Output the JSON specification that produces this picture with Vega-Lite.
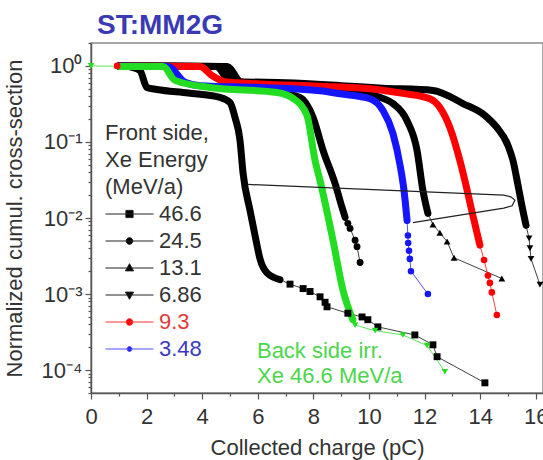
{
  "$schema": "https://vega.github.io/schema/vega-lite/v6.json",
  "width": 452,
  "height": 350,
  "autosize": {"type": "none"},
  "padding": {"left": 91, "top": 43, "right": 0, "bottom": 67},
  "config": {
    "font": "Liberation Sans",
    "view": {"stroke": "#8a8a8a", "strokeWidth": 1.5},
    "axis": {"grid": false, "domainColor": "#555", "domainWidth": 1.5, "tickColor": "#555", "tickWidth": 1.2, "labelColor": "#333", "titleColor": "#333", "labelFontSize": 22, "titleFontSize": 22, "titleFontWeight": "normal", "labelFont": "Liberation Sans", "titleFont": "Liberation Sans"}
  },
  "title": {"text": "ST:MM2G", "anchor": "start", "frame": "group", "offset": 2, "dx": 6, "fontSize": 28, "fontWeight": "bold", "color": "#3a3ab5", "font": "Liberation Sans"},
  "resolve": {"scale": {"shape": "independent", "size": "independent"}, "legend": {"shape": "independent", "fill": "independent", "stroke": "independent", "color": "independent", "size": "independent"}},
  "datasets": {
    "curves": [
      {"s": "46.6", "x": 1.2, "y": 1.0, "p": "d"},
      {"s": "46.6", "x": 1.76, "y": 0.87, "p": "d"},
      {"s": "46.6", "x": 2.01, "y": 0.52, "p": "d"},
      {"s": "46.6", "x": 2.37, "y": 0.49, "p": "d"},
      {"s": "46.6", "x": 3.5, "y": 0.44, "p": "d"},
      {"s": "46.6", "x": 4.64, "y": 0.385, "p": "d"},
      {"s": "46.6", "x": 5.0, "y": 0.33, "p": "d"},
      {"s": "46.6", "x": 5.18, "y": 0.21, "p": "d"},
      {"s": "46.6", "x": 5.36, "y": 0.105, "p": "d"},
      {"s": "46.6", "x": 5.47, "y": 0.039, "p": "d"},
      {"s": "46.6", "x": 5.72, "y": 0.0126, "p": "d"},
      {"s": "46.6", "x": 5.94, "y": 0.005, "p": "d"},
      {"s": "46.6", "x": 6.08, "y": 0.0029, "p": "d"},
      {"s": "46.6", "x": 6.33, "y": 0.0019, "p": "d"},
      {"s": "46.6", "x": 6.8, "y": 0.00155, "p": "d"},
      {"s": "46.6", "x": 7.16, "y": 0.00135, "p": "t"},
      {"s": "46.6", "x": 7.63, "y": 0.00118, "p": "t"},
      {"s": "46.6", "x": 7.88, "y": 0.00108, "p": "t"},
      {"s": "46.6", "x": 8.24, "y": 0.00092, "p": "t"},
      {"s": "46.6", "x": 8.42, "y": 0.00078, "p": "t"},
      {"s": "46.6", "x": 8.49, "y": 0.00068, "p": "t"},
      {"s": "46.6", "x": 9.24, "y": 0.00056, "p": "t"},
      {"s": "46.6", "x": 9.75, "y": 0.0005, "p": "t"},
      {"s": "46.6", "x": 9.96, "y": 0.00046, "p": "t"},
      {"s": "46.6", "x": 10.32, "y": 0.00037, "p": "t"},
      {"s": "46.6", "x": 11.65, "y": 0.00029, "p": "t"},
      {"s": "46.6", "x": 12.3, "y": 0.000215, "p": "t"},
      {"s": "46.6", "x": 12.45, "y": 0.00015, "p": "t"},
      {"s": "46.6", "x": 14.17, "y": 0.000068, "p": "t"},
      {"s": "24.5", "x": 1.0, "y": 1.0, "p": "d"},
      {"s": "24.5", "x": 4.5, "y": 0.98, "p": "d"},
      {"s": "24.5", "x": 5.0, "y": 0.6, "p": "d"},
      {"s": "24.5", "x": 5.5, "y": 0.52, "p": "d"},
      {"s": "24.5", "x": 6.5, "y": 0.47, "p": "d"},
      {"s": "24.5", "x": 7.52, "y": 0.385, "p": "d"},
      {"s": "24.5", "x": 7.99, "y": 0.21, "p": "d"},
      {"s": "24.5", "x": 8.35, "y": 0.077, "p": "d"},
      {"s": "24.5", "x": 8.78, "y": 0.0284, "p": "d"},
      {"s": "24.5", "x": 9.03, "y": 0.0138, "p": "d"},
      {"s": "24.5", "x": 9.14, "y": 0.0102, "p": "d"},
      {"s": "24.5", "x": 9.24, "y": 0.0085, "p": "t"},
      {"s": "24.5", "x": 9.32, "y": 0.0073, "p": "t"},
      {"s": "24.5", "x": 9.5, "y": 0.0051, "p": "t"},
      {"s": "24.5", "x": 9.57, "y": 0.0042, "p": "t"},
      {"s": "24.5", "x": 9.68, "y": 0.0026, "p": "t"},
      {"s": "13.1", "x": 1.0, "y": 1.0, "p": "d"},
      {"s": "13.1", "x": 4.7, "y": 0.98, "p": "d"},
      {"s": "13.1", "x": 5.2, "y": 0.6, "p": "d"},
      {"s": "13.1", "x": 6.5, "y": 0.55, "p": "d"},
      {"s": "13.1", "x": 8.5, "y": 0.5, "p": "d"},
      {"s": "13.1", "x": 10.4, "y": 0.385, "p": "d"},
      {"s": "13.1", "x": 10.86, "y": 0.32, "p": "d"},
      {"s": "13.1", "x": 11.37, "y": 0.19, "p": "d"},
      {"s": "13.1", "x": 11.73, "y": 0.077, "p": "d"},
      {"s": "13.1", "x": 11.94, "y": 0.0231, "p": "d"},
      {"s": "13.1", "x": 12.12, "y": 0.0115, "p": "d"},
      {"s": "13.1", "x": 12.3, "y": 0.0082, "p": "t"},
      {"s": "13.1", "x": 12.55, "y": 0.0064, "p": "t"},
      {"s": "13.1", "x": 12.81, "y": 0.0049, "p": "t"},
      {"s": "13.1", "x": 13.06, "y": 0.003, "p": "t"},
      {"s": "13.1", "x": 14.78, "y": 0.0016, "p": "t"},
      {"s": "6.86", "x": 1.0, "y": 1.0, "p": "d"},
      {"s": "6.86", "x": 4.9, "y": 0.98, "p": "d"},
      {"s": "6.86", "x": 5.4, "y": 0.62, "p": "d"},
      {"s": "6.86", "x": 7.0, "y": 0.6, "p": "d"},
      {"s": "6.86", "x": 9.0, "y": 0.55, "p": "d"},
      {"s": "6.86", "x": 10.5, "y": 0.51, "p": "d"},
      {"s": "6.86", "x": 12.3, "y": 0.476, "p": "d"},
      {"s": "6.86", "x": 13.38, "y": 0.32, "p": "d"},
      {"s": "6.86", "x": 14.17, "y": 0.223, "p": "d"},
      {"s": "6.86", "x": 14.6, "y": 0.155, "p": "d"},
      {"s": "6.86", "x": 15.0, "y": 0.09, "p": "d"},
      {"s": "6.86", "x": 15.18, "y": 0.057, "p": "d"},
      {"s": "6.86", "x": 15.36, "y": 0.027, "p": "d"},
      {"s": "6.86", "x": 15.5, "y": 0.0146, "p": "d"},
      {"s": "6.86", "x": 15.65, "y": 0.008, "p": "d"},
      {"s": "6.86", "x": 15.76, "y": 0.0054, "p": "t"},
      {"s": "6.86", "x": 15.79, "y": 0.004, "p": "t"},
      {"s": "6.86", "x": 15.83, "y": 0.0029, "p": "t"},
      {"s": "6.86", "x": 16.15, "y": 0.00133, "p": "t"},
      {"s": "9.3", "x": 0.94, "y": 1.0, "p": "t"},
      {"s": "9.3", "x": 1.0, "y": 1.0, "p": "d"},
      {"s": "9.3", "x": 3.92, "y": 0.98, "p": "d"},
      {"s": "9.3", "x": 4.35, "y": 0.75, "p": "d"},
      {"s": "9.3", "x": 4.82, "y": 0.62, "p": "d"},
      {"s": "9.3", "x": 6.08, "y": 0.58, "p": "d"},
      {"s": "9.3", "x": 8.24, "y": 0.54, "p": "d"},
      {"s": "9.3", "x": 10.04, "y": 0.5, "p": "d"},
      {"s": "9.3", "x": 11.22, "y": 0.435, "p": "d"},
      {"s": "9.3", "x": 12.19, "y": 0.37, "p": "d"},
      {"s": "9.3", "x": 12.55, "y": 0.284, "p": "d"},
      {"s": "9.3", "x": 12.91, "y": 0.155, "p": "d"},
      {"s": "9.3", "x": 13.27, "y": 0.057, "p": "d"},
      {"s": "9.3", "x": 13.45, "y": 0.031, "p": "d"},
      {"s": "9.3", "x": 13.74, "y": 0.0107, "p": "d"},
      {"s": "9.3", "x": 13.99, "y": 0.0044, "p": "d"},
      {"s": "9.3", "x": 14.14, "y": 0.0028, "p": "t"},
      {"s": "9.3", "x": 14.28, "y": 0.00175, "p": "t"},
      {"s": "9.3", "x": 14.35, "y": 0.0014, "p": "t"},
      {"s": "9.3", "x": 14.42, "y": 0.00105, "p": "t"},
      {"s": "9.3", "x": 14.6, "y": 0.00053, "p": "t"},
      {"s": "3.48", "x": 1.0, "y": 1.0, "p": "d"},
      {"s": "3.48", "x": 2.77, "y": 0.98, "p": "d"},
      {"s": "3.48", "x": 3.38, "y": 0.61, "p": "d"},
      {"s": "3.48", "x": 3.92, "y": 0.55, "p": "d"},
      {"s": "3.48", "x": 6.08, "y": 0.52, "p": "d"},
      {"s": "3.48", "x": 8.24, "y": 0.47, "p": "d"},
      {"s": "3.48", "x": 8.96, "y": 0.43, "p": "d"},
      {"s": "3.48", "x": 10.04, "y": 0.37, "p": "d"},
      {"s": "3.48", "x": 10.5, "y": 0.26, "p": "d"},
      {"s": "3.48", "x": 10.86, "y": 0.13, "p": "d"},
      {"s": "3.48", "x": 11.12, "y": 0.049, "p": "d"},
      {"s": "3.48", "x": 11.26, "y": 0.023, "p": "d"},
      {"s": "3.48", "x": 11.37, "y": 0.0093, "p": "d"},
      {"s": "3.48", "x": 11.4, "y": 0.0059, "p": "t"},
      {"s": "3.48", "x": 11.41, "y": 0.0047, "p": "t"},
      {"s": "3.48", "x": 11.44, "y": 0.0037, "p": "t"},
      {"s": "3.48", "x": 11.47, "y": 0.0029, "p": "t"},
      {"s": "3.48", "x": 11.51, "y": 0.002, "p": "t"},
      {"s": "3.48", "x": 12.12, "y": 0.001, "p": "t"},
      {"s": "back", "x": 0.0, "y": 1.0, "p": "t"},
      {"s": "back", "x": 1.04, "y": 0.985, "p": "d"},
      {"s": "back", "x": 2.59, "y": 0.985, "p": "d"},
      {"s": "back", "x": 3.02, "y": 0.645, "p": "d"},
      {"s": "back", "x": 4.28, "y": 0.52, "p": "d"},
      {"s": "back", "x": 6.69, "y": 0.448, "p": "d"},
      {"s": "back", "x": 7.27, "y": 0.374, "p": "d"},
      {"s": "back", "x": 7.77, "y": 0.223, "p": "d"},
      {"s": "back", "x": 8.06, "y": 0.057, "p": "d"},
      {"s": "back", "x": 8.24, "y": 0.031, "p": "d"},
      {"s": "back", "x": 8.71, "y": 0.005, "p": "d"},
      {"s": "back", "x": 9.06, "y": 0.00114, "p": "d"},
      {"s": "back", "x": 9.42, "y": 0.00046, "p": "d"},
      {"s": "back", "x": 9.5, "y": 0.00039, "p": "t"},
      {"s": "back", "x": 10.22, "y": 0.00033, "p": "t"},
      {"s": "back", "x": 11.22, "y": 0.00029, "p": "t"},
      {"s": "back", "x": 12.09, "y": 0.00021, "p": "t"},
      {"s": "back", "x": 12.73, "y": 0.000095, "p": "t"}
    ],
    "loop": [
      {"i": 0, "x": 5.65, "y": 0.0276},
      {"i": 1, "x": 14.85, "y": 0.02},
      {"i": 2, "x": 15.1, "y": 0.019},
      {"i": 3, "x": 15.25, "y": 0.0172},
      {"i": 4, "x": 15.15, "y": 0.0145},
      {"i": 5, "x": 14.85, "y": 0.0135},
      {"i": 6, "x": 11.58, "y": 0.0087}
    ],
    "notes": [
      {"x": 5.97, "y": 0.000244, "t": "Back side irr.\nXe 46.6 MeV/a"}
    ]
  },
  "encoding": {
    "x": {
      "field": "x", "type": "quantitative",
      "scale": {"domain": [0, 16.26], "nice": false, "zero": false},
      "axis": {
        "title": "Collected charge (pC)",
        "values": [0,1,2,3,4,5,6,7,8,9,10,11,12,13,14,15,16],
        "labelExpr": "datum.value % 2 == 0 ? datum.label : ''",
        "tickSize": {"condition": {"test": "datum.value % 2 == 0", "value": 6}, "value": 3},
        "labelPadding": 7,
        "titlePadding": 10,
        "labelFlush": false
      }
    },
    "y": {
      "field": "y", "type": "quantitative",
      "scale": {"type": "log", "domain": [0.00005, 2], "nice": false},
      "axis": {
        "title": "Normalized cumul. cross-section",
        "values": [0.00005,0.00006,0.00007,0.00008,0.00009,0.0001,0.0002,0.0003,0.0004,0.0005,0.0006,0.0007,0.0008,0.0009,0.001,0.002,0.003,0.004,0.005,0.006,0.007,0.008,0.009,0.01,0.02,0.03,0.04,0.05,0.06,0.07,0.08,0.09,0.1,0.2,0.3,0.4,0.5,0.6,0.7,0.8,0.9,1,2],
        "labelExpr": "abs(log(datum.value)/LN10 - round(log(datum.value)/LN10)) < 0.001 ? (round(log(datum.value)/LN10) == 0 ? '10⁰' : round(log(datum.value)/LN10) == -1 ? '10⁻¹' : round(log(datum.value)/LN10) == -2 ? '10⁻²' : round(log(datum.value)/LN10) == -3 ? '10⁻³' : '10⁻⁴') : ''",
        "tickSize": {"condition": {"test": "abs(log(datum.value)/LN10 - round(log(datum.value)/LN10)) < 0.001", "value": 6}, "value": 3},
        "labelPadding": 3,
        "titlePadding": 15,
        "labelFlush": false
      }
    }
  },
  "layer": [
    {
      "data": {"name": "curves"},
      "mark": {"type": "line", "strokeWidth": 1, "strokeOpacity": 0.75},
      "encoding": {
        "color": {"field": "s", "type": "nominal", "legend": null,
          "scale": {"domain": ["46.6","24.5","13.1","6.86","9.3","3.48","back"], "range": ["#000000","#000000","#000000","#000000","#ff0000","#1515ff","#22dd22"]}},
        "detail": {"field": "s"}
      }
    },
    {
      "data": {"name": "curves"},
      "transform": [{"filter": "datum.p == 'd'"}],
      "mark": {"type": "line", "strokeWidth": 7, "interpolate": "monotone", "strokeCap": "round", "strokeJoin": "round"},
      "encoding": {
        "color": {"field": "s", "type": "nominal", "legend": null,
          "scale": {"domain": ["46.6","24.5","13.1","6.86","9.3","3.48","back"], "range": ["#000000","#000000","#000000","#000000","#ff0000","#1515ff","#22dd22"]}},
        "detail": {"field": "s"}
      }
    },
    {
      "data": {"name": "curves"},
      "transform": [{"filter": "datum.p == 't'"}],
      "mark": {"type": "point", "filled": true, "opacity": 1},
      "encoding": {
        "color": {"field": "s", "type": "nominal", "legend": null,
          "scale": {"domain": ["46.6","24.5","13.1","6.86","9.3","3.48","back"], "range": ["#000000","#000000","#000000","#000000","#ff0000","#1515ff","#22dd22"]}},
        "shape": {"field": "s", "type": "nominal", "legend": null,
          "scale": {"domain": ["46.6","24.5","13.1","6.86","9.3","3.48","back"], "range": ["square","circle","triangle-up","triangle-down","circle","circle","triangle-down"]}},
        "size": {"field": "s", "type": "nominal", "legend": null,
          "scale": {"domain": ["46.6","24.5","13.1","6.86","9.3","3.48","back"], "range": [48,42,50,50,50,32,18]}}
      }
    },
    {
      "data": {"name": "loop"},
      "mark": {"type": "line", "strokeWidth": 1.2, "color": "#222", "interpolate": "linear"},
      "encoding": {
        "order": {"field": "i", "type": "quantitative"}
      }
    },
    {
      "data": {"name": "notes"},
      "mark": {"type": "text", "align": "left", "baseline": "top", "fontSize": 22, "lineHeight": 25, "lineBreak": "\n", "color": "#4cd64c", "font": "Liberation Sans"},
      "encoding": {
        "text": {"field": "t"}
      }
    },
    {
      "data": {"name": "curves"},
      "transform": [{"filter": "datum.p == 'none'"}],
      "mark": {"type": "point", "strokeWidth": 1, "opacity": 1},
      "encoding": {
        "fill": {"field": "s", "type": "nominal",
          "scale": {"domain": ["46.6","24.5","13.1","6.86","9.3","3.48","back"], "range": ["#000000","#000000","#000000","#000000","#ff0000","#1515ff","#22dd22"]},
          "legend": {
            "values": ["46.6","24.5","13.1","6.86","9.3","3.48"],
            "orient": "none", "legendX": 14, "legendY": 80, "padding": 0,
            "title": ["Front side,", "Xe Energy", "(MeV/a)"],
            "titleFontSize": 22, "titleFontWeight": "normal", "titleColor": "#333", "titleFont": "Liberation Sans",
            "titleLineHeight": 27, "titlePadding": 3,
            "labelFontSize": 22, "labelFont": "Liberation Sans",
            "labelColor": {"expr": "datum.value == '9.3' ? '#e03a3a' : datum.value == '3.48' ? '#3a3ac0' : '#333333'"},
            "symbolSize": 2304, "symbolStrokeWidth": 1, "symbolOffset": 0, "labelOffset": 5, "symbolOpacity": 1,
            "clipHeight": 24, "rowPadding": 3
          }
        },
        "stroke": {"field": "s", "type": "nominal",
          "scale": {"domain": ["46.6","24.5","13.1","6.86","9.3","3.48","back"], "range": ["#222222","#222222","#222222","#222222","#ff3030","#5050ff","#22dd22"]},
          "legend": {
            "values": ["46.6","24.5","13.1","6.86","9.3","3.48"],
            "orient": "none", "legendX": 14, "legendY": 80, "padding": 0,
            "title": ["Front side,", "Xe Energy", "(MeV/a)"]
          }
        },
        "shape": {"field": "s", "type": "nominal",
          "scale": {"domain": ["46.6","24.5","13.1","6.86","9.3","3.48","back"], "range": [
            "M-1,0H1M-0.15,-0.15H0.15V0.15H-0.15Z",
            "M-1,0H1M0.14,0A0.14,0.14,0,1,1,-0.14,0A0.14,0.14,0,1,1,0.14,0Z",
            "M-1,0H1M0,-0.18L0.17,0.12H-0.17Z",
            "M-1,0H1M0,0.18L0.17,-0.12H-0.17Z",
            "M-1,0H1M0.14,0A0.14,0.14,0,1,1,-0.14,0A0.14,0.14,0,1,1,0.14,0Z",
            "M-1,0H1M0.1,0A0.1,0.1,0,1,1,-0.1,0A0.1,0.1,0,1,1,0.1,0Z",
            "M-1,0H1"]},
          "legend": {
            "values": ["46.6","24.5","13.1","6.86","9.3","3.48"],
            "orient": "none", "legendX": 14, "legendY": 80, "padding": 0,
            "title": ["Front side,", "Xe Energy", "(MeV/a)"]
          }
        }
      }
    }
  ]
}
